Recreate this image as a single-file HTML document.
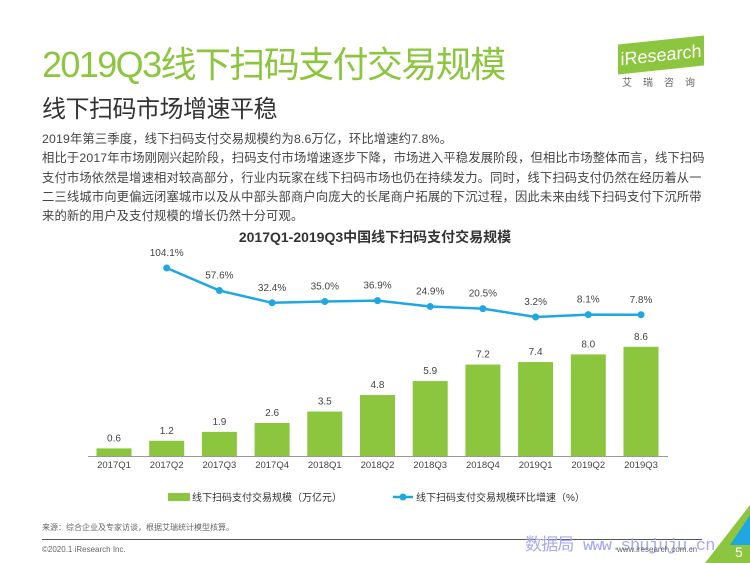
<!DOCTYPE html>
<html><head><meta charset="utf-8"><style>
body{margin:0;width:750px;height:563px;overflow:hidden;background:#fff;font-family:"Liberation Sans","Noto Sans CJK SC",sans-serif;position:relative}
.a{position:absolute;white-space:nowrap}
</style></head><body>
<div class="a" style="left:42px;top:36px;font-size:36px;color:#8cc63f;letter-spacing:-1.6px">2019Q3线下扫码支付交易规模</div>
<div class="a" style="left:42px;top:89px;font-size:24px;color:#333;letter-spacing:-0.5px">线下扫码市场增速平稳</div>
<div class="a" style="left:618px;top:40px;width:86px;height:30px;background:#8cc63f;transform:skewY(-6deg);color:#fff;font-size:18px;line-height:30px;text-align:center">iResearch</div>
<div class="a" style="left:622px;top:74px;font-size:10px;color:#666;letter-spacing:11px">艾瑞咨询</div>
<div class="a" style="left:42px;top:130px;font-size:12.3px;color:#444;line-height:19.3px;white-space:normal;width:690px;letter-spacing:0.15px">2019年第三季度，线下扫码支付交易规模约为8.6万亿，环比增速约7.8%。<br>相比于2017年市场刚刚兴起阶段，扫码支付市场增速逐步下降，市场进入平稳发展阶段，但相比市场整体而言，线下扫码<br>支付市场依然是增速相对较高部分，行业内玩家在线下扫码市场也仍在持续发力。同时，线下扫码支付仍然在经历着从一<br>二三线城市向更偏远闭塞城市以及从中部头部商户向庞大的长尾商户拓展的下沉过程，因此未来由线下扫码支付下沉所带<br>来的新的用户及支付规模的增长仍然十分可观。</div>
<div class="a" style="left:0;width:750px;text-align:center;top:227px;font-size:14px;font-weight:bold;color:#333">2017Q1-2019Q3中国线下扫码支付交易规模</div>
<svg class="a" style="left:0;top:0" width="750" height="563" id="chart"></svg>
<div class="a" style="left:42px;top:522px;font-size:8px;color:#666">来源：综合企业及专家访谈，根据艾瑞统计模型核算。</div>
<div class="a" style="left:42px;top:539px;width:660px;height:1px;background:#555"></div>
<div class="a" style="left:42px;top:545px;font-size:8px;color:#666">©2020.1 iResearch Inc.</div>
<div class="a" style="left:525px;top:530px;font-size:17px;color:#a8a8f0;letter-spacing:-0.8px;font-family:'Liberation Mono','Noto Sans CJK SC',monospace">数据局 www.shujuju.cn</div>
<div class="a" style="left:617px;top:545px;font-size:8px;color:#666">www.iresearch.com.cn</div>
<svg class="a" style="left:705px;top:505px" width="45" height="58"><polygon points="45,0 45,58 0,58" fill="#8cc63f"/><polygon points="45,10 45,40 25,40" fill="#1ea7e1"/><text x="30" y="52" fill="#fff" font-size="14">5</text></svg>
<script>
const categories=["2017Q1","2017Q2","2017Q3","2017Q4","2018Q1","2018Q2","2018Q3","2018Q4","2019Q1","2019Q2","2019Q3"];
const volumes=[0.6,1.2,1.9,2.6,3.5,4.8,5.9,7.2,7.4,8.0,8.6];
const growth=[104.1,57.6,32.4,35.0,36.9,24.9,20.5,3.2,8.1,7.8];
const volumeLabels=["0.6","1.2","1.9","2.6","3.5","4.8","5.9","7.2","7.4","8.0","8.6"];
const growthLabels=["104.1%","57.6%","32.4%","35.0%","36.9%","24.9%","20.5%","3.2%","8.1%","7.8%"];
const NS="http://www.w3.org/2000/svg",svg=document.getElementById('chart');
const xC=i=>114+i*52.7, base=456;
const yBar=v=>base-v*12.7;
const yLine=v=>317-(v-3.2)*0.486;
function mk(t,a){const e=document.createElementNS(NS,t);for(const k in a)e.setAttribute(k,a[k]);svg.appendChild(e);return e;}
let ax=mk('line',{x1:88,x2:668,y1:base+0.5,y2:base+0.5,stroke:'#999'});


categories.forEach((c,i)=>{
 const b=mk('rect',{x:xC(i)-17.5,y:yBar(volumes[i]),width:35,height:base-yBar(volumes[i]),fill:'#8cc63f'});
 
 
 const t=mk('text',{x:xC(i),y:yBar(volumes[i])-7,'text-anchor':'middle','font-size':10,fill:'#444'});t.textContent=volumeLabels[i];
 
 
 const l=mk('text',{x:xC(i),y:468,'text-anchor':'middle','font-size':9.5,fill:'#444'});l.textContent=c;
 
 
});
let pts=growth.map((g,j)=>xC(j+1)+','+yLine(g)).join(' ');
let pl=mk('polyline',{points:pts,fill:'none',stroke:'#1ea7e1','stroke-width':2.5});


growth.forEach((g,j)=>{
 const p=mk('circle',{cx:xC(j+1),cy:yLine(g),r:3.5,fill:'#1ea7e1'});
 
 
 const t=mk('text',{x:xC(j+1),y:yLine(g)-12,'text-anchor':'middle','font-size':10,fill:'#444'});t.textContent=growthLabels[j];
 
 
});
let lg1=mk('rect',{x:168,y:493,width:22,height:8,fill:'#8cc63f'});


let lt1=mk('text',{x:192,y:501,'font-size':10,fill:'#333'});lt1.textContent='线下扫码支付交易规模（万亿元）';


let lg2=mk('line',{x1:393,x2:413,y1:497,y2:497,stroke:'#1ea7e1','stroke-width':2.5});


let lg3=mk('circle',{cx:403,cy:497,r:3.5,fill:'#1ea7e1'});


let lt2=mk('text',{x:416,y:501,'font-size':10,fill:'#333'});lt2.textContent='线下扫码支付交易规模环比增速（%）';


</script>
</body></html>
